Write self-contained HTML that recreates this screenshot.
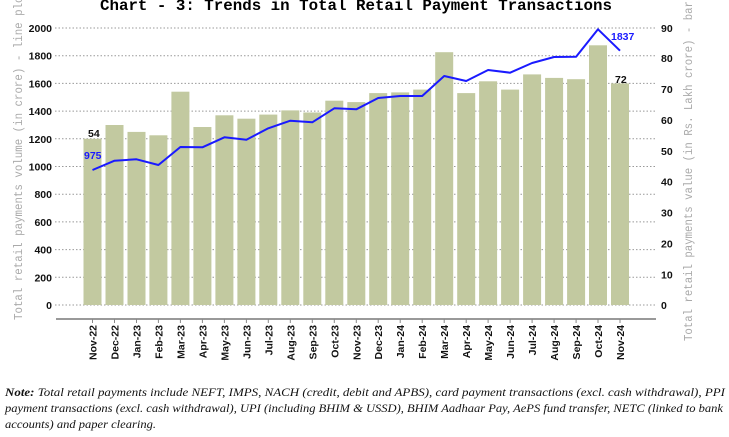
<!DOCTYPE html>
<html><head><meta charset="utf-8"><style>
html,body{margin:0;padding:0;background:#fff;}
svg{display:block;}
</style></head><body>
<svg width="729" height="437" viewBox="0 0 729 437" xmlns="http://www.w3.org/2000/svg">
<text x="356" y="10" text-anchor="middle" font-family="Liberation Mono, monospace" font-weight="bold" font-size="15.5" textLength="512" lengthAdjust="spacingAndGlyphs">Chart - 3: Trends in Total Retail Payment Transactions</text>
<g stroke="#999" stroke-width="1" stroke-dasharray="1.5,2">
<line x1="55" x2="655" y1="28" y2="28"/><line x1="55" x2="655" y1="55.7" y2="55.7"/><line x1="55" x2="655" y1="83.4" y2="83.4"/><line x1="55" x2="655" y1="111.1" y2="111.1"/><line x1="55" x2="655" y1="138.8" y2="138.8"/><line x1="55" x2="655" y1="166.5" y2="166.5"/><line x1="55" x2="655" y1="194.2" y2="194.2"/><line x1="55" x2="655" y1="221.9" y2="221.9"/><line x1="55" x2="655" y1="249.6" y2="249.6"/><line x1="55" x2="655" y1="277.3" y2="277.3"/><line x1="55" x2="655" y1="305" y2="305"/>
</g>
<g fill="#c2c9a0">
<rect x="83.5" y="138.8" width="18" height="166.2"/><rect x="105.5" y="125" width="18" height="180"/><rect x="127.5" y="131.9" width="18" height="173.1"/><rect x="149.4" y="135.3" width="18" height="169.7"/><rect x="171.4" y="91.7" width="18" height="213.3"/><rect x="193.4" y="127" width="18" height="178"/><rect x="215.4" y="115.3" width="18" height="189.7"/><rect x="237.4" y="118.7" width="18" height="186.3"/><rect x="259.3" y="114.6" width="18" height="190.4"/><rect x="281.3" y="110.4" width="18" height="194.6"/><rect x="303.3" y="112.5" width="18" height="192.5"/><rect x="325.3" y="100.7" width="18" height="204.3"/><rect x="347.3" y="102.1" width="18" height="202.9"/><rect x="369.2" y="93.1" width="18" height="211.9"/><rect x="391.2" y="92.4" width="18" height="212.6"/><rect x="413.2" y="89.6" width="18" height="215.4"/><rect x="435.2" y="52.2" width="18" height="252.8"/><rect x="457.2" y="93.1" width="18" height="211.9"/><rect x="479.1" y="81.3" width="18" height="223.7"/><rect x="501.1" y="89.6" width="18" height="215.4"/><rect x="523.1" y="74.4" width="18" height="230.6"/><rect x="545.1" y="77.9" width="18" height="227.1"/><rect x="567.1" y="79.2" width="18" height="225.8"/><rect x="589" y="45.3" width="18" height="259.7"/><rect x="611" y="83.4" width="18" height="221.6"/>
</g>
<polyline fill="none" stroke="#1a1aff" stroke-width="2" stroke-linejoin="round" points="92.5,170 114.5,160.7 136.5,159.3 158.4,165 180.4,147 202.4,147.3 224.4,137.3 246.4,139.7 268.3,128.3 290.3,120.7 312.3,122.3 334.3,108.3 356.3,109.3 378.2,98 400.2,96 422.2,96 444.2,76 466.2,81 488.1,70 510.1,72.7 532.1,63 554.1,57 576.1,56.7 598,29.3 620,50.7"/>
<g font-family="Liberation Sans, Arial, sans-serif" font-weight="bold" font-size="10.5">
<text x="88" y="137" fill="#111">54</text>
<text x="84" y="159" fill="#1a1aff">975</text>
<text x="611" y="40" fill="#1a1aff">1837</text>
<text x="615" y="83" fill="#111">72</text>
</g>
<line x1="56" x2="656" y1="319" y2="319" stroke="#999" stroke-width="2"/>
<g stroke="#888" stroke-width="1">
<line x1="92.5" x2="92.5" y1="319" y2="323"/><line x1="114.5" x2="114.5" y1="319" y2="323"/><line x1="136.5" x2="136.5" y1="319" y2="323"/><line x1="158.4" x2="158.4" y1="319" y2="323"/><line x1="180.4" x2="180.4" y1="319" y2="323"/><line x1="202.4" x2="202.4" y1="319" y2="323"/><line x1="224.4" x2="224.4" y1="319" y2="323"/><line x1="246.4" x2="246.4" y1="319" y2="323"/><line x1="268.3" x2="268.3" y1="319" y2="323"/><line x1="290.3" x2="290.3" y1="319" y2="323"/><line x1="312.3" x2="312.3" y1="319" y2="323"/><line x1="334.3" x2="334.3" y1="319" y2="323"/><line x1="356.3" x2="356.3" y1="319" y2="323"/><line x1="378.2" x2="378.2" y1="319" y2="323"/><line x1="400.2" x2="400.2" y1="319" y2="323"/><line x1="422.2" x2="422.2" y1="319" y2="323"/><line x1="444.2" x2="444.2" y1="319" y2="323"/><line x1="466.2" x2="466.2" y1="319" y2="323"/><line x1="488.1" x2="488.1" y1="319" y2="323"/><line x1="510.1" x2="510.1" y1="319" y2="323"/><line x1="532.1" x2="532.1" y1="319" y2="323"/><line x1="554.1" x2="554.1" y1="319" y2="323"/><line x1="576.1" x2="576.1" y1="319" y2="323"/><line x1="598" x2="598" y1="319" y2="323"/><line x1="620" x2="620" y1="319" y2="323"/>
</g>
<g font-family="Liberation Sans, Arial, sans-serif" font-weight="bold" font-size="10.5" fill="#111" text-anchor="end">
<text x="52" y="32">2000</text><text x="52" y="59.7">1800</text><text x="52" y="87.4">1600</text><text x="52" y="115.1">1400</text><text x="52" y="142.8">1200</text><text x="52" y="170.5">1000</text><text x="52" y="198.2">800</text><text x="52" y="225.9">600</text><text x="52" y="253.6">400</text><text x="52" y="281.3">200</text><text x="52" y="309">0</text>
</g>
<g font-family="Liberation Sans, Arial, sans-serif" font-weight="bold" font-size="10.5" fill="#111">
<text x="661" y="32">90</text><text x="661" y="62.1">80</text><text x="661" y="93">70</text><text x="661" y="123.9">60</text><text x="661" y="154.8">50</text><text x="661" y="185.7">40</text><text x="661" y="216.6">30</text><text x="661" y="247.4">20</text><text x="661" y="278.3">10</text><text x="661" y="309">0</text>
</g>
<g font-family="Liberation Sans, Arial, sans-serif" font-weight="bold" font-size="10.5" fill="#111" text-anchor="end">
<text transform="translate(96.5,325) rotate(-90)">Nov-22</text><text transform="translate(118.5,325) rotate(-90)">Dec-22</text><text transform="translate(140.5,325) rotate(-90)">Jan-23</text><text transform="translate(162.4,325) rotate(-90)">Feb-23</text><text transform="translate(184.4,325) rotate(-90)">Mar-23</text><text transform="translate(206.4,325) rotate(-90)">Apr-23</text><text transform="translate(228.4,325) rotate(-90)">May-23</text><text transform="translate(250.4,325) rotate(-90)">Jun-23</text><text transform="translate(272.3,325) rotate(-90)">Jul-23</text><text transform="translate(294.3,325) rotate(-90)">Aug-23</text><text transform="translate(316.3,325) rotate(-90)">Sep-23</text><text transform="translate(338.3,325) rotate(-90)">Oct-23</text><text transform="translate(360.3,325) rotate(-90)">Nov-23</text><text transform="translate(382.2,325) rotate(-90)">Dec-23</text><text transform="translate(404.2,325) rotate(-90)">Jan-24</text><text transform="translate(426.2,325) rotate(-90)">Feb-24</text><text transform="translate(448.2,325) rotate(-90)">Mar-24</text><text transform="translate(470.2,325) rotate(-90)">Apr-24</text><text transform="translate(492.1,325) rotate(-90)">May-24</text><text transform="translate(514.1,325) rotate(-90)">Jun-24</text><text transform="translate(536.1,325) rotate(-90)">Jul-24</text><text transform="translate(558.1,325) rotate(-90)">Aug-24</text><text transform="translate(580.1,325) rotate(-90)">Sep-24</text><text transform="translate(602,325) rotate(-90)">Oct-24</text><text transform="translate(624,325) rotate(-90)">Nov-24</text>
</g>
<text transform="translate(22,320) rotate(-90)" font-family="Liberation Mono, monospace" font-size="11.5" fill="#aaa" textLength="330" lengthAdjust="spacingAndGlyphs">Total retail payments volume (in crore) - line plot</text>
<text transform="translate(692,341) rotate(-90)" font-family="Liberation Mono, monospace" font-size="11.5" fill="#aaa" textLength="372" lengthAdjust="spacingAndGlyphs">Total retail payments value (in Rs. Lakh crore) - bar plot</text>
<g font-family="Liberation Serif, serif" font-style="italic" font-size="11.5" fill="#111">
<text x="5" y="396" textLength="720" lengthAdjust="spacingAndGlyphs"><tspan font-weight="bold">Note:</tspan> Total retail payments include NEFT, IMPS, NACH (credit, debit and APBS), card payment transactions (excl. cash withdrawal), PPI</text>
<text x="5" y="412" textLength="718" lengthAdjust="spacingAndGlyphs">payment transactions (excl. cash withdrawal), UPI (including BHIM &amp; USSD), BHIM Aadhaar Pay, AePS fund transfer, NETC (linked to bank</text>
<text x="5" y="428" textLength="151" lengthAdjust="spacingAndGlyphs">accounts) and paper clearing.</text>
</g>
</svg>
</body></html>
